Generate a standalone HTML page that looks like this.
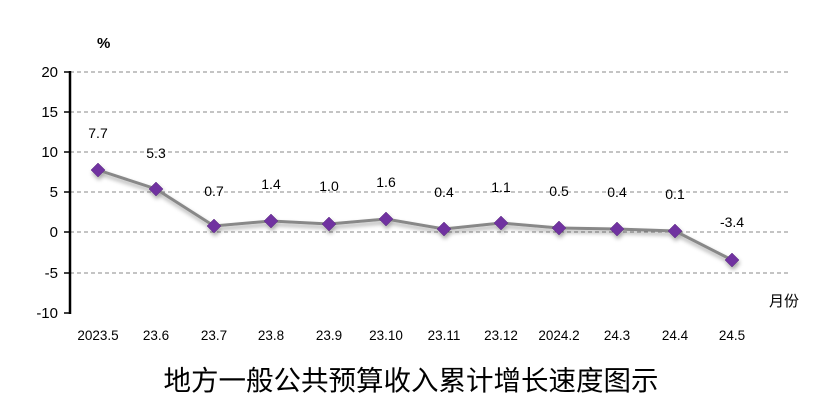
<!DOCTYPE html>
<html><head><meta charset="utf-8"><style>body{margin:0;background:#fff}svg{display:block}</style></head><body>
<svg width="824" height="412" xmlns="http://www.w3.org/2000/svg" font-family="Liberation Sans, sans-serif">
<defs><filter id="s" x="-20%" y="-20%" width="140%" height="160%"><feDropShadow dx="1" dy="3" stdDeviation="2" flood-color="#000" flood-opacity="0.35"/></filter></defs>
<text x="97" y="48" font-size="15" font-weight="bold">%</text>
<g stroke="#888" stroke-dasharray="4,3" stroke-width="1">
<line x1="70" y1="72" x2="790" y2="72"/><line x1="70" y1="112" x2="790" y2="112"/><line x1="70" y1="152" x2="790" y2="152"/><line x1="70" y1="192" x2="790" y2="192"/><line x1="70" y1="232" x2="790" y2="232"/><line x1="70" y1="273" x2="790" y2="273"/>
</g>
<g stroke="#000" stroke-width="1.5"><line x1="64" y1="72" x2="70" y2="72"/><line x1="64" y1="112" x2="70" y2="112"/><line x1="64" y1="152" x2="70" y2="152"/><line x1="64" y1="192" x2="70" y2="192"/><line x1="64" y1="232" x2="70" y2="232"/><line x1="64" y1="273" x2="70" y2="273"/><line x1="64" y1="313" x2="70" y2="313"/></g>
<line x1="70" y1="71" x2="70" y2="314" stroke="#000" stroke-width="2.5"/>
<g font-size="15" text-anchor="end"><text x="58" y="77">20</text><text x="58" y="117">15</text><text x="58" y="157">10</text><text x="58" y="197">5</text><text x="58" y="237">0</text><text x="58" y="278">-5</text><text x="58" y="318">-10</text></g>
<g filter="url(#s)">
<polyline fill="none" stroke="#888" stroke-width="3" points="98,170 156,189 214,226 271,221 329,224 386,219 444,229 501,223 559,228 617,229 675,231 732,260"/>
<g fill="#7030a0" stroke="#5a2a80" stroke-width="0.5">
<path d="M98,163l7,7l-7,7l-7,-7z"/><path d="M156,182l7,7l-7,7l-7,-7z"/><path d="M214,219l7,7l-7,7l-7,-7z"/><path d="M271,214l7,7l-7,7l-7,-7z"/><path d="M329,217l7,7l-7,7l-7,-7z"/><path d="M386,212l7,7l-7,7l-7,-7z"/><path d="M444,222l7,7l-7,7l-7,-7z"/><path d="M501,216l7,7l-7,7l-7,-7z"/><path d="M559,221l7,7l-7,7l-7,-7z"/><path d="M617,222l7,7l-7,7l-7,-7z"/><path d="M675,224l7,7l-7,7l-7,-7z"/><path d="M732,253l7,7l-7,7l-7,-7z"/>
</g></g>
<g font-size="14" text-anchor="middle">
<text x="98" y="138">7.7</text><text x="156" y="158">5.3</text><text x="214" y="196">0.7</text><text x="271" y="189">1.4</text><text x="329" y="191">1.0</text><text x="386" y="187">1.6</text><text x="444" y="197">0.4</text><text x="501" y="192">1.1</text><text x="559" y="196">0.5</text><text x="617" y="197">0.4</text><text x="675" y="199">0.1</text><text x="732" y="227">-3.4</text>
</g>
<g font-size="13.5" text-anchor="middle">
<text x="98" y="340">2023.5</text><text x="156" y="340">23.6</text><text x="214" y="340">23.7</text><text x="271" y="340">23.8</text><text x="329" y="340">23.9</text><text x="386" y="340">23.10</text><text x="444" y="340">23.11</text><text x="501" y="340">23.12</text><text x="559" y="340">2024.2</text><text x="617" y="340">24.3</text><text x="675" y="340">24.4</text><text x="732" y="340">24.5</text>
</g>
<text x="784" y="306" font-size="15" text-anchor="middle" font-family="Noto Sans CJK SC, sans-serif">月份</text>
<text x="411" y="390" font-size="27.5" text-anchor="middle" font-family="Noto Sans CJK SC, sans-serif">地方一般公共预算收入累计增长速度图示</text>
</svg>
</body></html>
